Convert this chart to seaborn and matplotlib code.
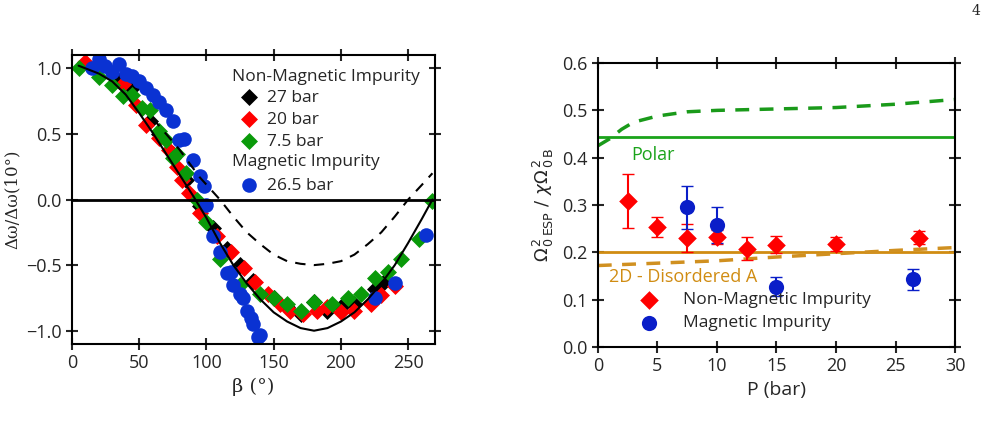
import numpy as np
import matplotlib
matplotlib.use("Agg")
import matplotlib.pyplot as plt
import seaborn as sns

# ---- left panel data ----
solid_b = [5, 10, 20, 30, 40, 50, 60, 70, 80, 90, 100, 110, 120, 130, 140, 150, 160, 170, 180,
           190, 200, 210, 220, 230, 240, 250, 260, 268]
solid_y = [1.02, 1.0, 0.96, 0.9, 0.8, 0.66, 0.51, 0.35, 0.19, 0.03, -0.14, -0.33, -0.5, -0.64, -0.76, -0.86,
           -0.93, -0.98, -1.0, -0.98, -0.93, -0.86, -0.76, -0.64, -0.5, -0.33, -0.15, 0.0]
dash_b = [60, 70, 80, 95, 110, 120, 130, 140, 150, 160, 170, 180, 190, 200, 210, 220, 230, 240, 250, 260, 268]
dash_y = [0.62, 0.5, 0.38, 0.17, 0.0, -0.13, -0.25, -0.34, -0.42, -0.47, -0.49, -0.5, -0.49, -0.47, -0.42,
          -0.34, -0.25, -0.13, 0.0, 0.11, 0.2]

bk_b = [35, 45, 58, 65, 75, 85, 95, 105, 115, 125, 135, 150, 160, 170, 180, 190, 200, 210, 225, 232]
bk_y = [0.9, 0.85, 0.6, 0.5, 0.35, 0.15, -0.05, -0.22, -0.38, -0.5, -0.62, -0.75, -0.82, -0.87, -0.78, -0.85, -0.82, -0.8, -0.68, -0.63]
rd_b = [10, 38, 48, 55, 65, 72, 78, 82, 87, 95, 108, 118, 128, 136, 146, 155, 162, 172, 182, 190, 200, 210, 222, 230, 240]
rd_y = [1.05, 0.88, 0.72, 0.57, 0.47, 0.38, 0.25, 0.15, 0.05, -0.1, -0.28, -0.4, -0.52, -0.63, -0.72, -0.8, -0.85, -0.87, -0.85, -0.82, -0.86, -0.85, -0.8, -0.73, -0.66]
gr_b = [5, 20, 30, 38, 45, 52, 58, 65, 70, 75, 78, 85, 93, 100, 110, 125, 140, 150, 160, 170, 180, 193, 205, 215, 225, 235, 245, 258, 268]
gr_y = [1.0, 0.93, 0.87, 0.79, 0.8, 0.7, 0.68, 0.52, 0.45, 0.32, 0.35, 0.2, 0.0, -0.17, -0.45, -0.65, -0.72, -0.75, -0.8, -0.85, -0.78, -0.8, -0.75, -0.72, -0.6, -0.55, -0.45, -0.3, -0.01]
bl_b = [15, 20, 25, 30, 35, 40, 45, 50, 55, 60, 65, 70, 75, 80, 83, 90, 95, 98, 100, 105, 110,
        115, 118, 120, 125, 127, 130, 133, 135, 138, 140, 225, 240, 263]
bl_y = [1.0, 1.07, 1.02, 0.97, 1.03, 0.96, 0.94, 0.9, 0.85, 0.8, 0.74, 0.68, 0.6, 0.45, 0.46, 0.3, 0.18, 0.1, -0.04, -0.28, -0.4,
        -0.56, -0.55, -0.65, -0.72, -0.75, -0.85, -0.9, -0.95, -1.05, -1.03, -0.75, -0.64, -0.27]

# ---- right panel data ----
nm_p = [2.5, 5, 7.5, 10, 12.5, 15, 20, 27]
nm_v = [0.308, 0.253, 0.23, 0.232, 0.208, 0.216, 0.218, 0.231]
nm_lo = [0.057, 0.02, 0.03, 0.015, 0.025, 0.018, 0.015, 0.013]
nm_hi = [0.057, 0.022, 0.03, 0.015, 0.025, 0.018, 0.015, 0.013]
mg_p = [7.5, 10, 15, 26.5]
mg_v = [0.296, 0.258, 0.127, 0.143]
mg_lo = [0.046, 0.038, 0.02, 0.022]
mg_hi = [0.044, 0.038, 0.02, 0.022]
gd_p = [0, 1, 2, 3, 5, 7.5, 10, 15, 20, 25, 30]
gd_v = [0.425, 0.44, 0.46, 0.475, 0.488, 0.497, 0.5, 0.503, 0.506, 0.513, 0.523]
od_p = [0, 5, 10, 15, 20, 25, 30]
od_v = [0.172, 0.177, 0.182, 0.19, 0.197, 0.204, 0.21]
polar_level = 0.444
disordered_level = 0.2

sns.set_theme(style="ticks")
plt.rcParams["font.family"] = ["Open Sans", "DejaVu Sans"]
plt.rcParams.update({"xtick.direction": "inout", "ytick.direction": "inout",
                     "xtick.major.size": 8, "ytick.major.size": 8,
                     "xtick.top": True, "ytick.right": True,
                     "axes.linewidth": 1.5, "axes.edgecolor": "black",
                     "xtick.major.width": 1.5, "ytick.major.width": 1.5,
                     "xtick.labelsize": 13, "ytick.labelsize": 13})

fig = plt.figure(figsize=(9.98, 4.38), dpi=100)
ax1 = fig.add_axes([0.072, 0.215, 0.364, 0.659])
ax2 = fig.add_axes([0.599, 0.208, 0.358, 0.648])

# left
ax1.axhline(0, color="black", lw=2)
ax1.plot(solid_b, solid_y, color="black", lw=1.5)
ax1.plot(dash_b, dash_y, color="black", lw=1.5, ls=(0, (5, 4)))
ms = 75
sns.scatterplot(x=bk_b, y=bk_y, ax=ax1, marker="D", color="black", s=ms, linewidth=0, label="27 bar")
sns.scatterplot(x=rd_b, y=rd_y, ax=ax1, marker="D", color="#ff0000", s=ms, linewidth=0, label="20 bar")
sns.scatterplot(x=gr_b, y=gr_y, ax=ax1, marker="D", color="#0a9a0a", s=ms, linewidth=0, label="7.5 bar")
sns.scatterplot(x=bl_b, y=bl_y, ax=ax1, marker="o", color="#0a32d2", s=110, linewidth=0, label="26.5 bar")
ax1.set_xlim(0, 270)
ax1.set_ylim(-1.1, 1.1)
ax1.set_xticks([0, 50, 100, 150, 200, 250])
ax1.set_yticks([-1.0, -0.5, 0.0, 0.5, 1.0])
ax1.set_xlabel("β (°)", family="DejaVu Serif", fontsize=14)
ax1.set_ylabel("Δω/Δω(10°)", family="DejaVu Serif", fontsize=12)
h, l = ax1.get_legend_handles_labels()
blank = plt.Line2D([], [], ls="none")
ax1.legend([h[0], h[1], h[2], blank, h[3]], ["27 bar", "20 bar", "7.5 bar", "", "26.5 bar"],
           loc="upper left", bbox_to_anchor=(0.46, 0.88), frameon=False, fontsize=12.5,
           handletextpad=0.4, labelspacing=0.33, borderaxespad=0, borderpad=0, handlelength=1.2)
ax1.text(0.44, 0.925, "Non-Magnetic Impurity", transform=ax1.transAxes, fontsize=12.5, va="center")
ax1.text(0.44, 0.63, "Magnetic Impurity", transform=ax1.transAxes, fontsize=12.5, va="center")

# right
ax2.axhline(polar_level, color="#1aa31a", lw=2)
ax2.axhline(disordered_level, color="#d08c12", lw=2)
ax2.plot(gd_p, gd_v, color="#1a9a1a", lw=2.5, ls=(0, (4, 3)))
ax2.plot(od_p, od_v, color="#d09020", lw=2.5, ls=(0, (4, 3)))
ax2.errorbar(nm_p, nm_v, yerr=[nm_lo, nm_hi], fmt="none", ecolor="#ff0000", capsize=4, lw=1.5)
ax2.errorbar(mg_p, mg_v, yerr=[mg_lo, mg_hi], fmt="none", ecolor="#0a1ec8", capsize=4, lw=1.5)
sns.scatterplot(x=nm_p, y=nm_v, ax=ax2, marker="D", color="#ff0000", s=90, linewidth=0,
                label="Non-Magnetic Impurity", zorder=3)
sns.scatterplot(x=mg_p, y=mg_v, ax=ax2, marker="o", color="#0a1ec8", s=120, linewidth=0,
                label="Magnetic Impurity", zorder=3)
ax2.text(2.8, 0.405, "Polar", color="#1aa31a", fontsize=13, va="center")
ax2.text(0.9, 0.148, "2D - Disordered A", color="#d08c12", fontsize=13, va="center")
ax2.set_xlim(0, 30)
ax2.set_ylim(0, 0.6)
ax2.set_xticks([0, 5, 10, 15, 20, 25, 30])
ax2.set_yticks([0.0, 0.1, 0.2, 0.3, 0.4, 0.5, 0.6])
ax2.set_xlabel("P (bar)", fontsize=14)
ax2.set_ylabel(r"$\Omega^{\,2}_{\,0\,\mathrm{ESP}}\ /\ \chi\Omega^{\,2}_{\,0\,\mathrm{B}}$", fontsize=13)
ax2.legend(loc="lower left", bbox_to_anchor=(0.05, 0.0), frameon=False, fontsize=12.5,
           handletextpad=1.0, labelspacing=0.4)

fig.text(0.982, 0.965, "4", fontsize=10, family="DejaVu Serif", ha="right")
fig.savefig("out.png", dpi=100)
